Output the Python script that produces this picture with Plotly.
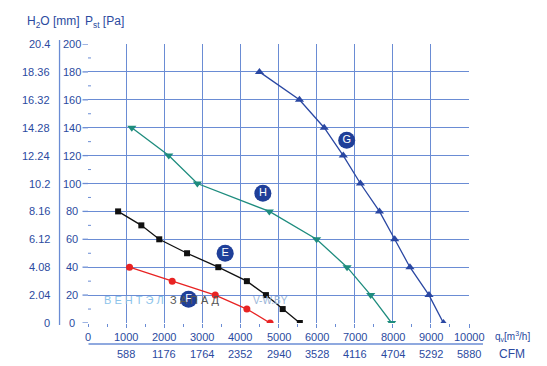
import plotly.graph_objects as go

# ---------------- data ----------------
g_x = [4500, 5550, 6200, 6700, 7150, 7650, 8050, 8450, 8950, 9330]
g_y = [180, 160, 140, 120, 100, 80, 60, 40, 20, 0]

h_x = [1150, 2120, 2870, 4760, 6000, 6800, 7420, 7970]
h_y = [140, 120, 100, 80, 60, 40, 20, 0]

e_x = [790, 1400, 1870, 2600, 3420, 4170, 4670, 5110, 5560]
e_y = [80, 70, 60, 50, 40, 30, 20, 10, 0]

f_x = [1090, 2210, 3340, 4170, 4780]
f_y = [40, 30, 20, 10, 0]

label_names = ["G", "H", "E", "F"]
label_x = [6790, 4590, 3600, 2640]
label_y = [131, 93, 50, 17]

qv_ticks = [0, 1000, 2000, 3000, 4000, 5000, 6000, 7000, 8000, 9000, 10000]
cfm_ticks = [1000, 2000, 3000, 4000, 5000, 6000, 7000, 8000, 9000, 10000]
cfm_labels = ["588", "1176", "1764", "2352", "2940", "3528", "4116", "4704", "5292", "5880"]
pa_ticks = [0, 20, 40, 60, 80, 100, 120, 140, 160, 180, 200]
pa_minor = [10, 30, 50, 70, 90, 110, 130, 150, 170, 190]
h2o_labels = ["0", "2.04", "4.08", "6.12", "8.16", "10.2", "12.24", "14.28", "16.32", "18.36", "20.4"]

# ---------------- style ----------------
OFF = 8  # page body margin offset
W, H = 547, 366
L, R, T, B = 87.5 - OFF, 469 - OFF, 44 - OFF, 323 - OFF   # plot area pixel bounds (figure coords)
TXT = "#2b4aa0"
GRID = "#6a8cd4"
FONT = "Liberation Sans, Arial, sans-serif"

def px(xp):
    return (xp - OFF - L) / (R - L)

def py(yp):
    return (B - (yp - OFF)) / (B - T)

fig = go.Figure()

def add_series(x, y, color, symbol, size):
    fig.add_trace(go.Scatter(x=x, y=y, mode="lines+markers",
                             line=dict(color=color, width=1.3),
                             marker=dict(symbol=symbol, size=size, color=color),
                             showlegend=False, hoverinfo="skip"))

add_series(g_x, g_y, "#2a47a2", "triangle-up", 8)
add_series(h_x, h_y, "#1e8c7e", "triangle-down", 8)
add_series(e_x, e_y, "#111111", "square", 6)
add_series(f_x, f_y, "#e82323", "circle", 7)

fig.add_trace(go.Scatter(x=label_x, y=label_y, mode="markers+text", text=label_names,
                         textposition="middle center",
                         textfont=dict(family=FONT, size=11, color="white"),
                         marker=dict(size=17, color="#1f3f99"),
                         showlegend=False, hoverinfo="skip"))

annotations = []
# watermark
annotations.append(dict(x=px(102), y=py(300), xref="paper", yref="paper", xanchor="left", yanchor="middle",
                        text="В Е Н Т Э Л", showarrow=False,
                        font=dict(family=FONT, size=11, color="#8cc3ea")))
annotations.append(dict(x=px(168), y=py(300), xref="paper", yref="paper", xanchor="left", yanchor="middle",
                        text="З А П А Д", showarrow=False,
                        font=dict(family=FONT, size=11, color="#555555")))
annotations.append(dict(x=px(251), y=py(300), xref="paper", yref="paper", xanchor="left", yanchor="middle",
                        text="V-W.BY", showarrow=False,
                        font=dict(family=FONT, size=10, color="#9ab5d8")))

# qv tick labels
for v in qv_ticks:
    annotations.append(dict(x=v, y=py(337), xref="x", yref="paper", text=str(v), showarrow=False,
                            xanchor="center", yanchor="middle",
                            font=dict(family=FONT, size=11, color=TXT)))
# CFM labels
for v, t in zip(cfm_ticks, cfm_labels):
    annotations.append(dict(x=v, y=py(354), xref="x", yref="paper", text=t, showarrow=False,
                            xanchor="center", yanchor="middle",
                            font=dict(family=FONT, size=11, color=TXT)))
# Pa labels and H2O labels
for v, t in zip(pa_ticks, h2o_labels):
    annotations.append(dict(x=px(71), y=v, xref="paper", yref="y", text=str(v), showarrow=False,
                            xanchor="center", yanchor="middle",
                            font=dict(family=FONT, size=11, color=TXT)))
    annotations.append(dict(x=px(51), y=v, xref="paper", yref="y", text=t, showarrow=False,
                            xanchor="right", yanchor="middle",
                            font=dict(family=FONT, size=11, color=TXT)))

# headers / axis titles
annotations.append(dict(x=px(24), y=py(22), xref="paper", yref="paper", xanchor="left", yanchor="middle",
                        text="H<sub>2</sub>O [mm]", showarrow=False,
                        font=dict(family=FONT, size=12, color=TXT)))
annotations.append(dict(x=px(82), y=py(22), xref="paper", yref="paper", xanchor="left", yanchor="middle",
                        text="P<sub>st</sub> [Pa]", showarrow=False,
                        font=dict(family=FONT, size=12, color=TXT)))
annotations.append(dict(x=px(493), y=py(336), xref="paper", yref="paper", xanchor="left", yanchor="middle",
                        text="q<sub>v</sub>[m<sup>3</sup>/h]", showarrow=False,
                        font=dict(family=FONT, size=10, color=TXT)))
annotations.append(dict(x=px(497), y=py(354), xref="paper", yref="paper", xanchor="left", yanchor="middle",
                        text="CFM", showarrow=False,
                        font=dict(family=FONT, size=12, color=TXT)))

shapes = [
    # separator between H2O and Pa columns
    dict(type="line", xref="paper", yref="paper", x0=px(59), x1=px(59), y0=py(40), y1=py(325),
         line=dict(color=GRID, width=1.3)),
    # separator between qv and CFM rows
    dict(type="line", xref="paper", yref="paper", x0=px(88), x1=px(483), y0=py(344), y1=py(344),
         line=dict(color=GRID, width=1.3)),
]
# left stubs of the grid lines, next to the Pa labels
for v in pa_ticks:
    shapes.append(dict(type="line", xref="paper", yref="y", x0=px(82), x1=0, y0=v, y1=v,
                       layer="below", line=dict(color=GRID, width=1.3)))
# short inside minor ticks on the left edge
for v in pa_minor:
    shapes.append(dict(type="line", xref="paper", yref="y", x0=px(87.5), x1=px(90.5), y0=v, y1=v,
                       layer="above", line=dict(color=GRID, width=1)))

fig.update_layout(
    width=W, height=H,
    margin=dict(l=L, r=W - R, t=T, b=H - B),
    paper_bgcolor="white", plot_bgcolor="rgba(0,0,0,0)",
    annotations=annotations, shapes=shapes,
    xaxis=dict(range=[0, 10000], tickmode="array", tickvals=cfm_ticks, showticklabels=False,
               showgrid=True, gridcolor=GRID, gridwidth=1.3, zeroline=False, showline=False,
               ticks="outside", ticklen=4, tickcolor=GRID, tickwidth=1.3,
               minor=dict(tick0=0, dtick=500, ticks="outside", ticklen=3, tickcolor=GRID, showgrid=False)),
    yaxis=dict(range=[0, 200], tickmode="array", tickvals=pa_ticks, showticklabels=False,
               showgrid=True, gridcolor=GRID, gridwidth=1.3, zeroline=False,
               showline=False, ticks=""),
)

fig.write_html("out.html")
